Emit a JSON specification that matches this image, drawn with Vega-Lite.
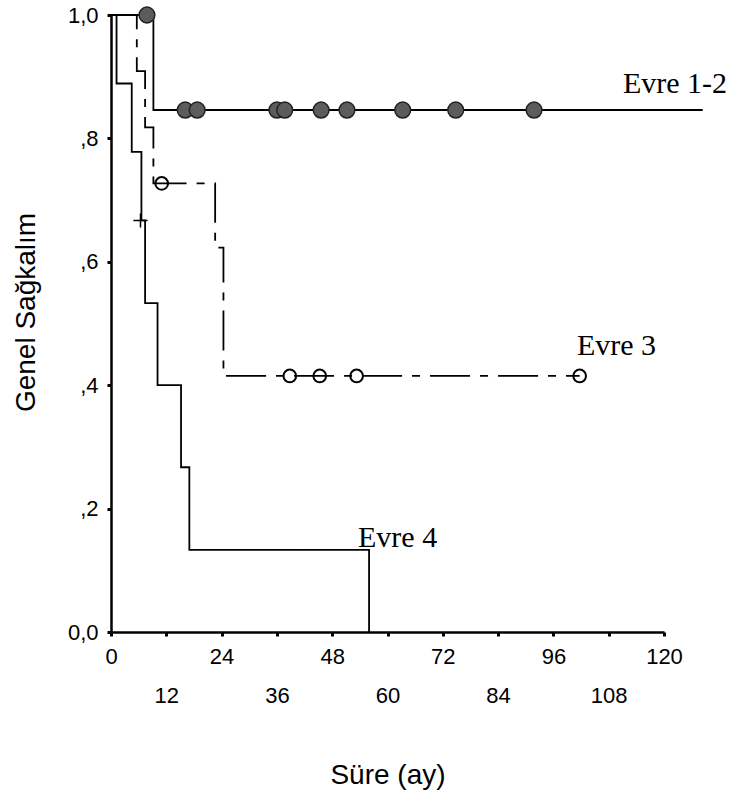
{
  "$schema": "https://vega.github.io/schema/vega-lite/v6.json",
  "autosize": "none",
  "width": 553,
  "height": 617,
  "padding": {"left": 111, "top": 15, "right": 71, "bottom": 164},
  "background": "white",
  "config": {"view": {"stroke": null}, "axis": {"grid": false}},
  "datasets": {
    "curves": [
      {"grp": "Evre 1-2", "t": 0, "s": 1},
      {"grp": "Evre 1-2", "t": 9.2, "s": 0.846},
      {"grp": "Evre 1-2", "t": 128.4, "s": 0.846},
      {"grp": "Evre 3", "t": 0, "s": 1},
      {"grp": "Evre 3", "t": 5.6, "s": 0.909},
      {"grp": "Evre 3", "t": 7.4, "s": 0.818},
      {"grp": "Evre 3", "t": 9.2, "s": 0.727},
      {"grp": "Evre 3", "t": 22.6, "s": 0.623},
      {"grp": "Evre 3", "t": 24.4, "s": 0.415},
      {"grp": "Evre 3", "t": 101.7, "s": 0.415},
      {"grp": "Evre 4", "t": 0, "s": 1},
      {"grp": "Evre 4", "t": 1.2, "s": 0.889},
      {"grp": "Evre 4", "t": 4.5, "s": 0.778},
      {"grp": "Evre 4", "t": 6.6, "s": 0.667},
      {"grp": "Evre 4", "t": 7.4, "s": 0.533},
      {"grp": "Evre 4", "t": 10.1, "s": 0.4},
      {"grp": "Evre 4", "t": 15.2, "s": 0.267},
      {"grp": "Evre 4", "t": 17, "s": 0.133},
      {"grp": "Evre 4", "t": 56, "s": 0}
    ],
    "censors": [
      {"grp": "Evre 1-2", "t": 7.8, "s": 1},
      {"grp": "Evre 1-2", "t": 16.1, "s": 0.846},
      {"grp": "Evre 1-2", "t": 18.7, "s": 0.846},
      {"grp": "Evre 1-2", "t": 36, "s": 0.846},
      {"grp": "Evre 1-2", "t": 37.7, "s": 0.846},
      {"grp": "Evre 1-2", "t": 45.6, "s": 0.846},
      {"grp": "Evre 1-2", "t": 51.2, "s": 0.846},
      {"grp": "Evre 1-2", "t": 63.3, "s": 0.846},
      {"grp": "Evre 1-2", "t": 74.8, "s": 0.846},
      {"grp": "Evre 1-2", "t": 91.8, "s": 0.846},
      {"grp": "Evre 3", "t": 11, "s": 0.727},
      {"grp": "Evre 3", "t": 38.8, "s": 0.415},
      {"grp": "Evre 3", "t": 45.3, "s": 0.415},
      {"grp": "Evre 3", "t": 53.3, "s": 0.415},
      {"grp": "Evre 3", "t": 101.7, "s": 0.415},
      {"grp": "Evre 4", "t": 6.4, "s": 0.667}
    ],
    "labels": [
      {"label": "Evre 1-2", "t": 111.1, "s": 0.874},
      {"label": "Evre 3", "t": 101.1, "s": 0.449},
      {"label": "Evre 4", "t": 53.6, "s": 0.138}
    ]
  },
  "encoding": {
    "x": {
      "field": "t", "type": "quantitative",
      "scale": {"domain": [0, 120], "nice": false, "zero": false},
      "axis": {
        "title": "Süre (ay)",
        "values": [0, 12, 24, 36, 48, 60, 72, 84, 96, 108, 120],
        "domainColor": "black", "domainWidth": 2.5,
        "tickColor": "black", "tickSize": 4, "tickWidth": 3,
        "labelFont": "Liberation Sans Narrow, Liberation Sans, Arial, sans-serif",
        "labelFontSize": 22, "labelColor": "black",
        "labelPadding": {"condition": {"test": "datum.value % 24 == 12", "value": 49}, "value": 10},
        "labelOverlap": false, "labelFlush": false,
        "titleFont": "Liberation Sans, Arial, sans-serif", "titleFontSize": 28, "titleFontWeight": "normal",
        "titleColor": "black", "titleBaseline": "alphabetic", "titleY": 151
      }
    },
    "y": {
      "field": "s", "type": "quantitative",
      "scale": {"domain": [0, 1], "nice": false},
      "axis": {
        "title": "Genel Sağkalım",
        "values": [0, 0.2, 0.4, 0.6, 0.8, 1],
        "labelExpr": "datum.value == 0 ? '0,0' : (datum.value == 1 ? '1,0' : ',' + format(datum.value * 10, 'd'))",
        "domainColor": "black", "domainWidth": 2.5,
        "tickColor": "black", "tickSize": 4, "tickWidth": 3,
        "labelFont": "Liberation Sans Narrow, Liberation Sans, Arial, sans-serif",
        "labelFontSize": 22, "labelColor": "black", "labelPadding": 9,
        "titleFont": "Liberation Sans, Arial, sans-serif", "titleFontSize": 28, "titleFontWeight": "normal",
        "titleColor": "black", "titleBaseline": "alphabetic", "titleX": -77, "titleY": 297, "titleAngle": -90
      }
    }
  },
  "layer": [
    {
      "data": {"name": "curves"},
      "mark": {"type": "line", "interpolate": "step-after", "color": "black", "clip": false},
      "encoding": {
        "detail": {"field": "grp"},
        "strokeDash": {"field": "grp", "type": "nominal", "legend": null,
          "scale": {"domain": ["Evre 1-2", "Evre 3", "Evre 4"], "range": [[1, 0], [40, 10, 8, 10], [1, 0]]}},
        "strokeWidth": {"field": "grp", "type": "nominal", "legend": null,
          "scale": {"domain": ["Evre 1-2", "Evre 3", "Evre 4"], "range": [1.8, 1.8, 3]}}
      }
    },
    {
      "data": {"name": "censors"},
      "transform": [{"filter": "datum.grp == 'Evre 1-2'"}],
      "mark": {"type": "point", "shape": "circle", "filled": true, "fill": "#5c5c5c", "stroke": "#222", "strokeWidth": 1.5, "size": 250, "opacity": 1, "clip": false}
    },
    {
      "data": {"name": "censors"},
      "transform": [{"filter": "datum.grp == 'Evre 3'"}],
      "mark": {"type": "point", "shape": "circle", "filled": false, "stroke": "black", "strokeWidth": 2, "size": 160, "opacity": 1}
    },
    {
      "data": {"name": "censors"},
      "transform": [{"filter": "datum.grp == 'Evre 4'"}],
      "mark": {"type": "point", "shape": "M-1,0H1M0,-1V1", "filled": false, "stroke": "black", "strokeWidth": 1.5, "size": 200, "opacity": 1}
    },
    {
      "data": {"name": "labels"},
      "mark": {"type": "text", "align": "left", "baseline": "alphabetic", "font": "Liberation Serif, Times New Roman, serif", "fontSize": 30, "color": "black", "clip": false},
      "encoding": {"text": {"field": "label"}}
    }
  ]
}
